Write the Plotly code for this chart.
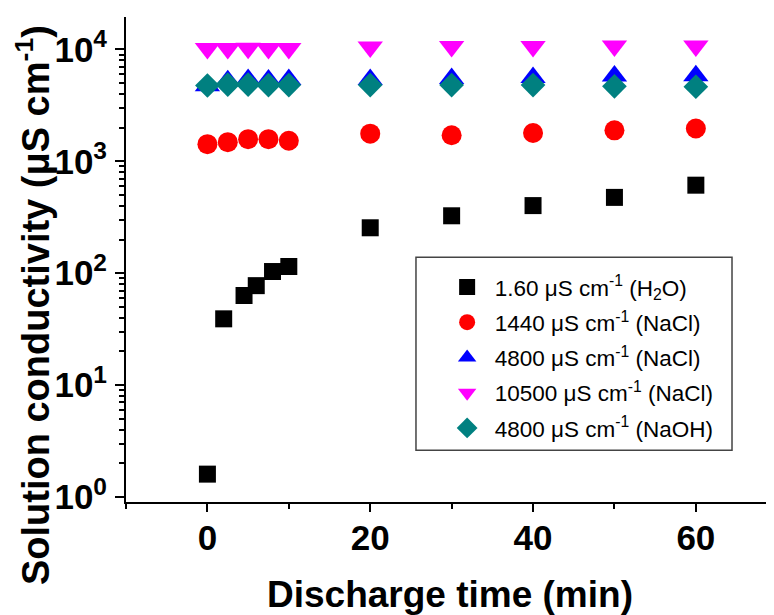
import plotly.graph_objects as go

# ---- data ----
time_h2o = [0, 2, 4.5, 6, 8, 10, 20, 30, 40, 50, 60]
cond_h2o = [1.60, 39.1, 63.2, 77.4, 103.5, 114.8, 254.7, 326, 402, 476, 612]

time_salt = [0, 2.5, 5, 7.5, 10, 20, 30, 40, 50, 60]
cond_nacl_1440 = [1423, 1483, 1577, 1577, 1527, 1766, 1709, 1792, 1893, 1964]
cond_nacl_4800 = [4745, 5260, 5400, 5320, 5400, 5400, 5510, 5625, 5780, 5825]
cond_nacl_10500 = [10190, 10190, 10250, 10200, 10190, 10540, 10620, 10620, 10740, 10740]
cond_naoh_4800 = [4760, 4850, 4850, 4800, 4800, 4805, 4805, 4805, 4677, 4640]

series_names = [
    "1.60 μS cm<sup>-1</sup> (H<sub>2</sub>O)",
    "1440 μS cm<sup>-1</sup> (NaCl)",
    "4800 μS cm<sup>-1</sup> (NaCl)",
    "10500 μS cm<sup>-1</sup> (NaCl)",
    "4800 μS cm<sup>-1</sup> (NaOH)",
]

x_title = "Discharge time (min)"
y_title = "Solution conductivity (μS cm<sup>-1</sup>)"

y_tick_vals = [1, 10, 100, 1000, 10000]
y_tick_text = ["10<sup>0</sup>", "10<sup>1</sup>", "10<sup>2</sup>", "10<sup>3</sup>", "10<sup>4</sup>"]
y_minor_vals = [m * d for d in y_tick_vals for m in range(2, 10)]

FONT = "Liberation Sans, Arial, sans-serif"

fig = go.Figure()
fig.add_trace(go.Scatter(x=time_h2o, y=cond_h2o, mode="markers", name=series_names[0], legendgroup="a",
                         marker=dict(symbol="square", size=17, color="#000000", line=dict(width=0))))
fig.add_trace(go.Scatter(x=time_salt, y=cond_nacl_1440, mode="markers", name=series_names[1], legendgroup="b",
                         marker=dict(symbol="circle", size=20, color="#FF0000", line=dict(width=0))))
fig.add_trace(go.Scatter(x=time_salt, y=cond_nacl_4800, mode="markers", name=series_names[2], legendgroup="c",
                         marker=dict(symbol="triangle-up", size=22, color="#0000FF", line=dict(width=0))))
fig.add_trace(go.Scatter(x=time_salt, y=cond_nacl_10500, mode="markers", name=series_names[3], legendgroup="d",
                         marker=dict(symbol="triangle-down", size=22, color="#FF00FF", line=dict(width=0))))
fig.add_trace(go.Scatter(x=time_salt, y=cond_naoh_4800, mode="markers", name=series_names[4], legendgroup="e",
                         marker=dict(symbol="diamond", size=19, color="#008080", line=dict(width=0))))

# the page body has an 8 px margin, so the figure is 8 px smaller and every margin shifts by 8
fig.update_layout(
    width=766, height=607,
    margin=dict(l=118, r=0, t=8.7, b=112.5),
    paper_bgcolor="white", plot_bgcolor="white",
    font=dict(family=FONT, color="black"),
    showlegend=True,
    legend=dict(x=0.484, y=0.487, xanchor="left", yanchor="top",
                bgcolor="rgba(0,0,0,0)", borderwidth=0, itemwidth=45,
                font=dict(family=FONT, size=22.5, color="black"),
                tracegroupgap=3),
    shapes=[dict(type="rect", xref="paper", yref="paper",
                 x0=0.4475, x1=0.9352, y0=0.1066, y1=0.5047,
                 line=dict(color="#444444", width=1.5), fillcolor="rgba(0,0,0,0)", layer="below")],
    annotations=[
        dict(text=x_title, xref="paper", yref="paper", x=0.5, y=-0.190, xanchor="center", yanchor="middle",
             showarrow=False, font=dict(family=FONT, size=37, color="black", weight="bold")),
        dict(text=y_title, xref="paper", yref="paper", x=-0.1435, y=0.406, xanchor="center", yanchor="middle",
             textangle=-90, showarrow=False, font=dict(family=FONT, size=38, color="black", weight="bold")),
    ],
)

fig.update_xaxes(
    range=[-10, 69.6], showline=True, linecolor="black", linewidth=2,
    showgrid=False, zeroline=False, ticks="outside", ticklen=8, tickwidth=2, tickcolor="black",
    tick0=0, dtick=20, ticklabelstandoff=-4,
    minor=dict(dtick=10, ticks="outside", ticklen=5, tickwidth=2, tickcolor="black", showgrid=False),
    tickfont=dict(family=FONT, size=35, color="black", weight="bold"),
    automargin=False,
)
fig.update_yaxes(
    type="log", range=[-0.045, 4.29], showline=True, linecolor="black", linewidth=2,
    showgrid=False, zeroline=False, ticks="outside", ticklen=9, tickwidth=2, tickcolor="black",
    tickvals=y_tick_vals, ticktext=y_tick_text, ticklabelstandoff=1,
    minor=dict(tickvals=y_minor_vals, ticks="outside", ticklen=5, tickwidth=2, tickcolor="black", showgrid=False),
    tickfont=dict(family=FONT, size=35, color="black", weight="bold"),
    automargin=False,
)

fig.write_html("out.html")
